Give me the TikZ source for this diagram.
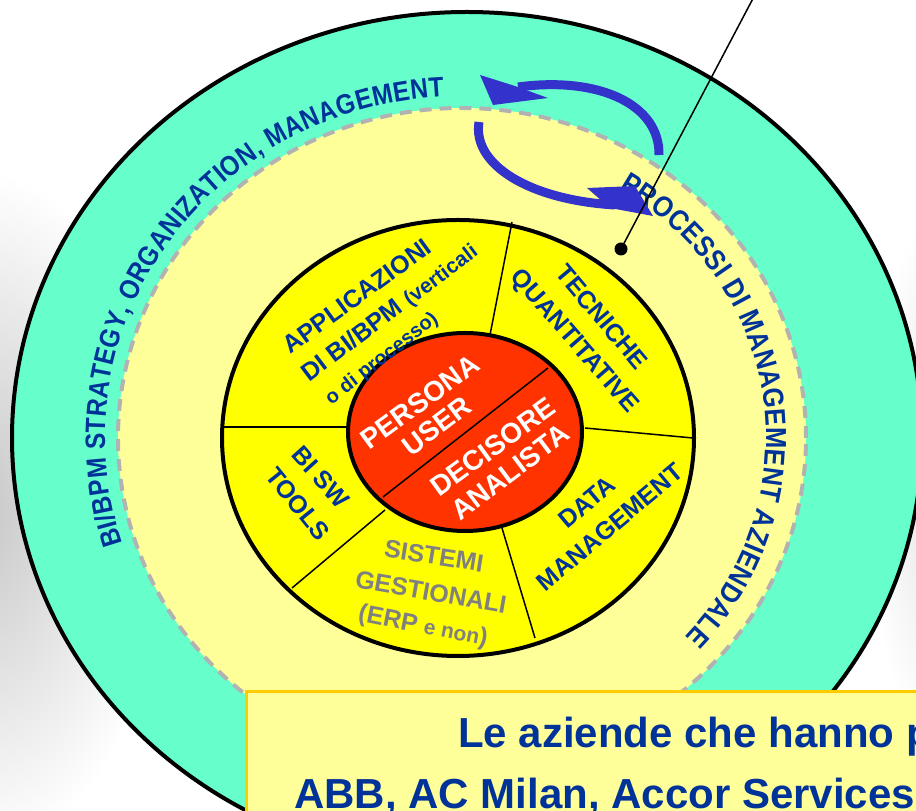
\documentclass[tikz,border=0pt]{standalone}
\usepackage{fontspec}
\setmainfont{Liberation Sans}
\newfontfamily\arcfont{Liberation Sans}[FakeStretch=0.88]
\usetikzlibrary{decorations.text}

\definecolor{ringgreen}{HTML}{66FFCC}
\definecolor{paleyellow}{HTML}{FFFF99}
\definecolor{coreyellow}{HTML}{FFFF00}
\definecolor{userred}{HTML}{FF3300}
\definecolor{txtblue}{HTML}{003399}
\definecolor{arrowblue}{HTML}{3333CC}
\definecolor{dashgray}{HTML}{B2B2B2}
\definecolor{boxgold}{HTML}{FFCC00}
\definecolor{erpgray}{HTML}{808080}

\begin{document}
\begin{tikzpicture}[x=1pt, y=1pt,
    rim/.style={line width=4pt},
    divider/.style={line width=1.5pt},
    ringtxt/.style={text=txtblue, font=\bfseries\fontsize{25}{30}\selectfont, inner sep=0pt},
    erptxt/.style={ringtxt, text=erpgray},
    coretxt/.style={text=white, font=\bfseries\fontsize{28}{32}\selectfont, inner sep=0pt},
    bluearrow/.style={draw=arrowblue, line width=9pt},
    boxtxt/.style={text=txtblue, font=\bfseries\fontsize{42}{48}\selectfont, anchor=base west, inner sep=0pt}]
    \useasboundingbox (0,0) rectangle (916,811);
    \clip (0,0) rectangle (916,811);

    % Slide background
    \fill[white] (0,0) rectangle (916,811);
    \shade[inner color=black!22, outer color=white] (-20,300) ellipse [x radius=190pt, y radius=340pt];
    \shade[inner color=black!10, outer color=white] (930,330) ellipse [x radius=60pt, y radius=260pt];

    % Outer rings
    \coordinate (ctr) at (463,373);
    \filldraw[fill=ringgreen, draw=black, rim] (467,373) ellipse [x radius=455pt, y radius=426pt];
    \filldraw[fill=paleyellow, draw=dashgray, rim, dash pattern=on 12pt off 8pt] (462,373) ellipse [x radius=344pt, y radius=330pt];

    % Curved ring labels
    \path[decorate, decoration={text along path, text align={fit to path},
        text={|\arcfont\bfseries\fontsize{28}{32}\selectfont\color{txtblue}|BI/BPM STRATEGY, ORGANIZATION, MANAGEMENT}}]
        (ctr) ++(198:358pt and 342pt) arc [start angle=198, end angle=93, x radius=358pt, y radius=342pt];
    \path[decorate, decoration={text along path, text align={fit to path},
        text={|\arcfont\bfseries\fontsize{29}{33}\selectfont\color{txtblue}|PROCESSI DI MANAGEMENT AZIENDALE}}]
        (ctr) ++(59:303pt and 291pt) arc [start angle=59, end angle=-43, x radius=303pt, y radius=291pt];

    % Yellow ring and its sectors
    \filldraw[fill=coreyellow, draw=black, rim] (458,373) ellipse [x radius=236pt, y radius=218pt];
    \draw[divider] (512,589) -- (490,476);
    \draw[divider] (585,383) -- (693,373);
    \draw[divider] (502,283) -- (535,173);
    \draw[divider] (385,301) -- (292,223);
    \draw[divider] (223,384) -- (348,384);

    % Red core
    \filldraw[fill=userred, draw=black, rim] (465,379) ellipse [x radius=117pt, y radius=99pt];
    \draw[divider] (383,314) -- (548,443);

    % Sector labels
    \node[ringtxt, rotate=36] (appl1) at (357,515) {APPLICAZIONI};
    \node[ringtxt, rotate=37] (appl2) at (390,498) {DI BI/BPM {\fontsize{21}{25}\selectfont(verticali}};
    \node[ringtxt, rotate=38, font=\bfseries\fontsize{20}{24}\selectfont] (appl3) at (382,452) {o di processo)};
    \node[ringtxt, rotate=-50] (tecn1) at (602,494) {TECNICHE};
    \node[ringtxt, rotate=-49] (tecn2) at (574,469) {QUANTITATIVE};
    \node[ringtxt, rotate=-48] (tool1) at (321,334) {BI SW};
    \node[ringtxt, rotate=-51] (tool2) at (298,307) {TOOLS};
    \node[erptxt, rotate=-9] (erp1) at (434,255) {SISTEMI};
    \node[erptxt, rotate=-10] (erp2) at (431,219) {GESTIONALI};
    \node[erptxt, rotate=-11] (erp3) at (423,184) {(ERP {\fontsize{21}{25}\selectfont e non})};
    \node[ringtxt, rotate=40] (data1) at (587,309) {DATA};
    \node[ringtxt, rotate=40] (data2) at (610,284) {MANAGEMENT};

    % Core labels
    \node[coretxt, rotate=36] (user1) at (420,409) {PERSONA};
    \node[coretxt, rotate=37] (user2) at (437,385) {USER};
    \node[coretxt, rotate=36] (dec1) at (493,364) {DECISORE};
    \node[coretxt, rotate=37] (dec2) at (510,339) {ANALISTA};

    % Cycle arrows
    \draw[bluearrow] (659,656) .. controls (660,706) and (600,735) .. (518,724);
    \fill[arrowblue] (480,736) -- (493,706) -- (548,713) -- (515,725) -- cycle;
    \draw[bluearrow] (479,689) .. controls (472,646) and (530,611) .. (615,606);
    \fill[arrowblue] (587,623) -- (635,625) -- (653,595) -- (610,603) -- cycle;

    % Pointer
    \coordinate (pinTop) at (758,822);
    \coordinate (pin) at (621,562);
    \draw[line width=1.5pt] (pinTop) -- (pin);
    \fill (pin) circle [radius=6.5pt];

    % Bottom box
    \filldraw[fill=paleyellow, draw=boxgold, line width=3pt] (246,119) rectangle (930,-20);
    \node[boxtxt] (lineA) at (458,63) {Le aziende che hanno p};
    \node[boxtxt] (lineB) at (294,2) {ABB, AC Milan, Accor Services};
\end{tikzpicture}
\end{document}
